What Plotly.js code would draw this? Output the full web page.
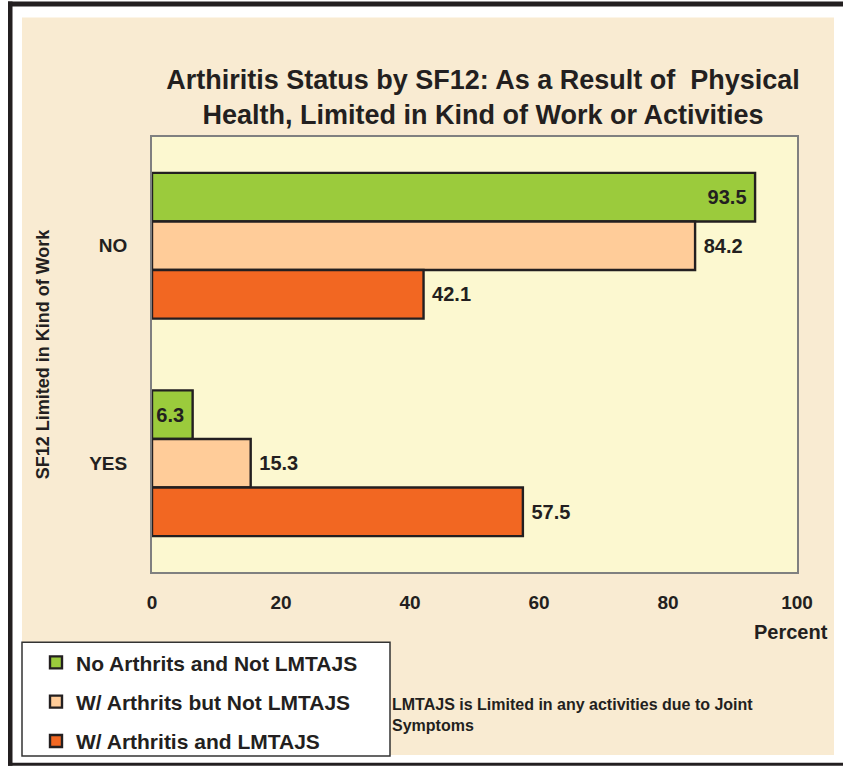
<!DOCTYPE html>
<html>
<head>
<meta charset="utf-8">
<script src="https://cdn.plot.ly/plotly-3.0.1.min.js"></script>
<style>html,body{margin:0;padding:0;background:#fff;}#chart{width:843px;height:773px;}</style>
</head>
<body>
<div id="chart"></div>
<script>
// ---- data ----
const categories = ['NO', 'YES'];
const seriesNames = ['No Arthrits and Not LMTAJS', 'W/ Arthrits but Not LMTAJS', 'W/ Arthritis and LMTAJS'];
const noArthritisNotLimited = [93.5, 6.3];
const arthritisNotLimited = [84.2, 15.3];
const arthritisLimited = [42.1, 57.5];
const xTickValues = [0, 20, 40, 60, 80, 100];
const titleText = 'Arthiritis Status by SF12: As a Result of  Physical<br>Health, Limited in Kind of Work or Activities';
const yTitleText = 'SF12 Limited in Kind of Work';
const xTitleText = 'Percent';
const noteText = 'LMTAJS is Limited in any activities due to Joint<br>Symptoms';

// ---- style ----
const FONT = 'Liberation Sans, Arial, sans-serif';
const INK = '#231F20';
const colors = ['#9BCB3C', '#FFCC99', '#F26722'];
const W = 843, H = 773, L = 152, R = 46, T = 137, B = 196;
const PW = W - L - R, PH = H - T - B;
const px = v => (v - L) / PW;          // pixel x -> paper x
const py = v => (H - B - v) / PH;      // pixel y -> paper y
const NB = '\u00a0';

const seriesValues = [noArthritisNotLimited, arthritisNotLimited, arthritisLimited];
const positions = [['inside', 'inside'], ['outside', 'outside'], ['outside', 'outside']];

const traces = seriesValues.map((vals, i) => ({
  type: 'bar',
  orientation: 'h',
  name: seriesNames[i],
  y: categories,
  x: vals,
  text: vals.map(v => i === 0 ? v.toFixed(1) + NB : NB + v.toFixed(1)),
  textposition: positions[i],
  insidetextanchor: 'end',
  constraintext: 'none',
  cliponaxis: false,
  textfont: {family: FONT, size: 20, color: INK, weight: 'bold'},
  marker: {color: colors[i], line: {color: INK, width: 2.4}},
  legendgroup: 'g' + i,
  hoverinfo: 'x+name'
}));

const layout = {
  width: W, height: H,
  margin: {l: L, r: R, t: T, b: B, pad: 0},
  paper_bgcolor: '#FFFFFF',
  plot_bgcolor: '#FCF8D0',
  font: {family: FONT, color: INK},
  barmode: 'group',
  bargap: 0.33,
  bargroupgap: 0,
  showlegend: true,
  title: {
    text: titleText,
    font: {family: FONT, size: 27, color: INK, weight: 'bold'},
    xref: 'paper', x: px(483), xanchor: 'center',
    yref: 'container', y: 1 - 89 / H, yanchor: 'middle'
  },
  xaxis: {
    range: [0, 100],
    tickvals: xTickValues,
    ticks: '',
    ticklabelstandoff: 12,
    showgrid: false,
    zeroline: false,
    showline: true, mirror: true, linecolor: '#808080', linewidth: 2,
    tickfont: {family: FONT, size: 19, color: INK, weight: 'bold'},
    fixedrange: true
  },
  yaxis: {
    type: 'category',
    categoryorder: 'array', categoryarray: categories,
    autorange: 'reversed',
    ticks: '',
    ticklabelstandoff: 19,
    showgrid: false,
    zeroline: false,
    showline: true, mirror: true, linecolor: '#808080', linewidth: 2,
    tickfont: {family: FONT, size: 19, color: INK, weight: 'bold'},
    title: {text: yTitleText, standoff: 35, font: {family: FONT, size: 18, color: INK, weight: 'bold'}},
    fixedrange: true
  },
  legend: {
    x: px(36), xanchor: 'left', xref: 'paper',
    y: py(648), yanchor: 'top', yref: 'paper',
    bgcolor: 'rgba(0,0,0,0)', borderwidth: 0,
    traceorder: 'grouped', tracegroupgap: 9,
    font: {family: FONT, size: 21, color: INK, weight: 'bold'}
  },
  annotations: [
    {
      text: xTitleText, xref: 'paper', yref: 'paper',
      x: px(830), xanchor: 'right', y: py(638), yanchor: 'middle',
      showarrow: false,
      font: {family: FONT, size: 20, color: INK, weight: 'bold'}
    },
    {
      text: noteText, xref: 'paper', yref: 'paper',
      x: px(390), xanchor: 'left', y: py(722), yanchor: 'middle',
      align: 'left', showarrow: false,
      font: {family: FONT, size: 16, color: INK, weight: 'bold'}
    }
  ],
  shapes: [
    // parchment panel
    {type: 'rect', xref: 'paper', yref: 'paper', layer: 'below',
     x0: px(22), x1: px(834), y0: py(762), y1: py(16),
     fillcolor: '#F9EBD2', line: {width: 0}},
    // plot area background
    {type: 'rect', xref: 'paper', yref: 'paper', layer: 'below',
     x0: 0, x1: 1, y0: 0, y1: 1, fillcolor: '#FCF8D0', line: {width: 0}},
    // outer black frame
    {type: 'rect', xref: 'paper', yref: 'paper', layer: 'below',
     x0: px(8), x1: px(843), y0: py(5), y1: py(0), fillcolor: INK, line: {width: 0}},
    {type: 'rect', xref: 'paper', yref: 'paper', layer: 'below',
     x0: px(8), x1: px(12.5), y0: py(773), y1: py(0), fillcolor: INK, line: {width: 0}},
    {type: 'rect', xref: 'paper', yref: 'paper', layer: 'below',
     x0: px(8), x1: px(843), y0: py(773), y1: py(770), fillcolor: INK, line: {width: 0}},
    // legend box
    {type: 'rect', xref: 'paper', yref: 'paper', layer: 'above',
     x0: px(22), x1: px(390), y0: py(763), y1: py(648),
     fillcolor: '#FFFFFF', line: {color: '#333333', width: 1.5}}
  ]
};

Plotly.newPlot('chart', traces, layout, {displayModeBar: false, staticPlot: true});
</script>
</body>
</html>
